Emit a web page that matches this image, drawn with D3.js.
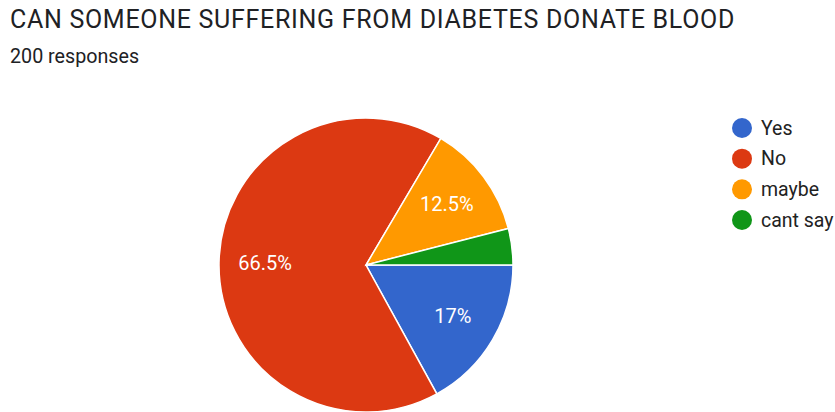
<!DOCTYPE html>
<html><head><meta charset="utf-8">
<script src="https://cdn.jsdelivr.net/npm/d3@7"></script>
<style>body{margin:0;background:#fff}svg{display:block}</style>
</head><body>
<script>
const title = "CAN SOMEONE SUFFERING FROM DIABETES DONATE BLOOD";
const subtitle = "200 responses";
const categories = ["Yes", "No", "maybe", "cant say"];
const values = [17, 66.5, 12.5, 4];
const labels = ["17%", "66.5%", "12.5%", ""];
const colors = ["#3366cc", "#dc3912", "#ff9900", "#109618"];

const W = 835, H = 412;
const svg = d3.select("body").append("svg").attr("width", W).attr("height", H);
const font = "Roboto, Arial, sans-serif";

svg.append("text").attr("x", 10).attr("y", 28).attr("font-family", font)
  .attr("font-size", 25).attr("letter-spacing", 0.7).attr("fill", "#202124").text(title);
svg.append("text").attr("x", 10).attr("y", 62.5).attr("font-family", font)
  .attr("font-size", 19.7).attr("fill", "#202124").text(subtitle);

const cx = 366, cy = 265, r = 147;
const pie = d3.pie().sort(null).value(d => d)
  .startAngle(Math.PI / 2).endAngle(Math.PI / 2 + 2 * Math.PI);
const arcs = pie(values);
const arc = d3.arc().innerRadius(0).outerRadius(r);
const labelArc = d3.arc().innerRadius(101).outerRadius(101);
const g = svg.append("g").attr("transform", `translate(${cx},${cy})`);
g.selectAll("path").data(arcs).join("path")
  .attr("d", arc).attr("fill", (d, i) => colors[i])
  .attr("stroke", "#fff").attr("stroke-width", 1.5);
g.selectAll("text").data(arcs).join("text")
  .attr("transform", d => `translate(${labelArc.centroid(d)})`)
  .attr("text-anchor", "middle").attr("dy", "0.35em")
  .attr("font-family", font).attr("font-size", 20).attr("fill", "#fff")
  .text((d, i) => labels[i]);

const leg = svg.append("g");
const ly = d3.scalePoint().domain(categories).range([128, 220]);
categories.forEach((c, i) => {
  leg.append("circle").attr("cx", 742).attr("cy", ly(c)).attr("r", 10).attr("fill", colors[i]);
  leg.append("text").attr("x", 761).attr("y", ly(c)).attr("dy", "0.35em")
    .attr("font-family", font).attr("font-size", 19.5).attr("fill", "#222").text(c);
});
</script>
</body></html>
